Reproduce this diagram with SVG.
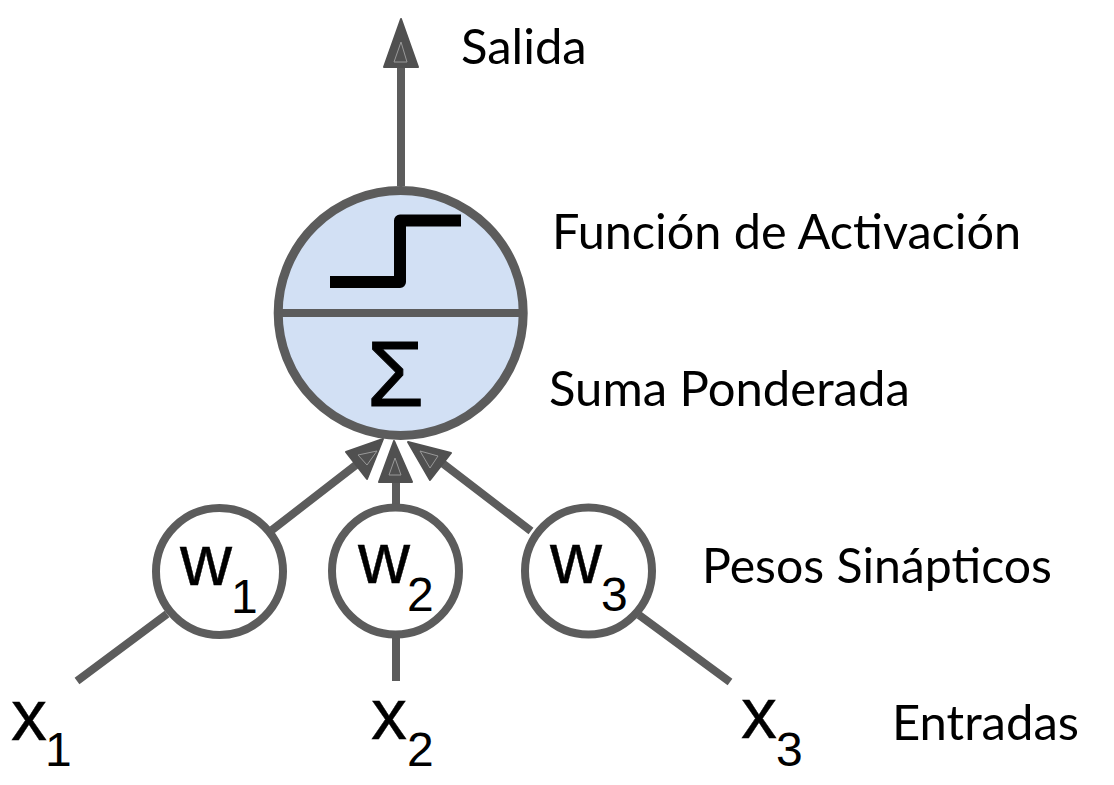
<svg xmlns="http://www.w3.org/2000/svg" width="1114" height="785" viewBox="0 0 1114 785">
<style>
.c{fill:none;stroke:#5c5c5c;stroke-width:8}
.h{fill:#505050;stroke:#505050;stroke-width:2;stroke-linejoin:round}
.i{fill:none;stroke:#999;stroke-width:1}
.n{fill:#fff;stroke:#5c5c5c;stroke-width:8}
.m{font-family:"Liberation Sans",Arial,sans-serif;fill:#000}
.b{font-size:72px;stroke:#000;stroke-width:.4}
.s{font-size:48px}
.l{font-family:Lato,"Liberation Sans",sans-serif;font-size:49px;fill:#000}
</style>
<rect width="1114" height="785" fill="#fff"/>
<g id="connectors">
<path class="c" d="M401 186V65M272 530L365 458M77 681L167 614M396 505V475M396 681V637M531 531L437 459M639 615L730 682"/>
<path class="h" d="M401 19L418 67H384Z"/>
<path class="i" d="M401 42L407 62H394Z"/>
<path class="h" d="M383 439L346 452L367 479Z"/>
<path class="i" d="M377 451L358 455L367 465Z"/>
<path class="h" d="M394 441L379 482H412Z"/>
<path class="i" d="M395 458L389 475H401Z"/>
<path class="h" d="M408 442L451 453L430 480Z"/>
<path class="i" d="M420 451L438 456L430 468Z"/>
</g>
<g id="neuron">
<circle cx="400.700" cy="313" r="122.500" fill="#d2e0f4" stroke="#5c5c5c" stroke-width="9"/>
<path d="M278 313H524" class="c"/>
<path d="M330 282H400V220.500H461" fill="none" stroke="#000" stroke-width="12" stroke-linejoin="round"/>
<text class="m" x="395.500" y="406" font-size="92" text-anchor="middle" stroke="#000" stroke-width="1">Σ</text>
</g>
<g id="w1"><circle class="n" cx="219.500" cy="571.500" r="63.500"/><text class="m b" x="180" y="585">w</text><text class="m s" x="231" y="613">1</text></g>
<g id="w2"><circle class="n" cx="395.500" cy="571" r="63.500"/><text class="m b" x="358" y="583">w</text><text class="m s" x="407" y="611">2</text></g>
<g id="w3"><circle class="n" cx="588.500" cy="571" r="63.500"/><text class="m b" x="550" y="583">w</text><text class="m s" x="601" y="611">3</text></g>
<g id="x1"><text class="m b" x="11" y="740">x</text><text class="m s" x="45" y="766">1</text></g>
<g id="x2"><text class="m b" x="371" y="739">x</text><text class="m s" x="407" y="766">2</text></g>
<g id="x3"><text class="m b" x="741" y="738">x</text><text class="m s" x="776" y="766">3</text></g>
<text class="l" x="461" y="64">Salida</text>
<text class="l" x="552" y="249" font-size="48.600" style="font-size:48.600px">Función de Activación</text>
<text class="l" x="549" y="406">Suma Ponderada</text>
<text class="l" x="702" y="583" style="font-size:48.200px">Pesos Sinápticos</text>
<text class="l" x="892" y="740">Entradas</text>
</svg>
